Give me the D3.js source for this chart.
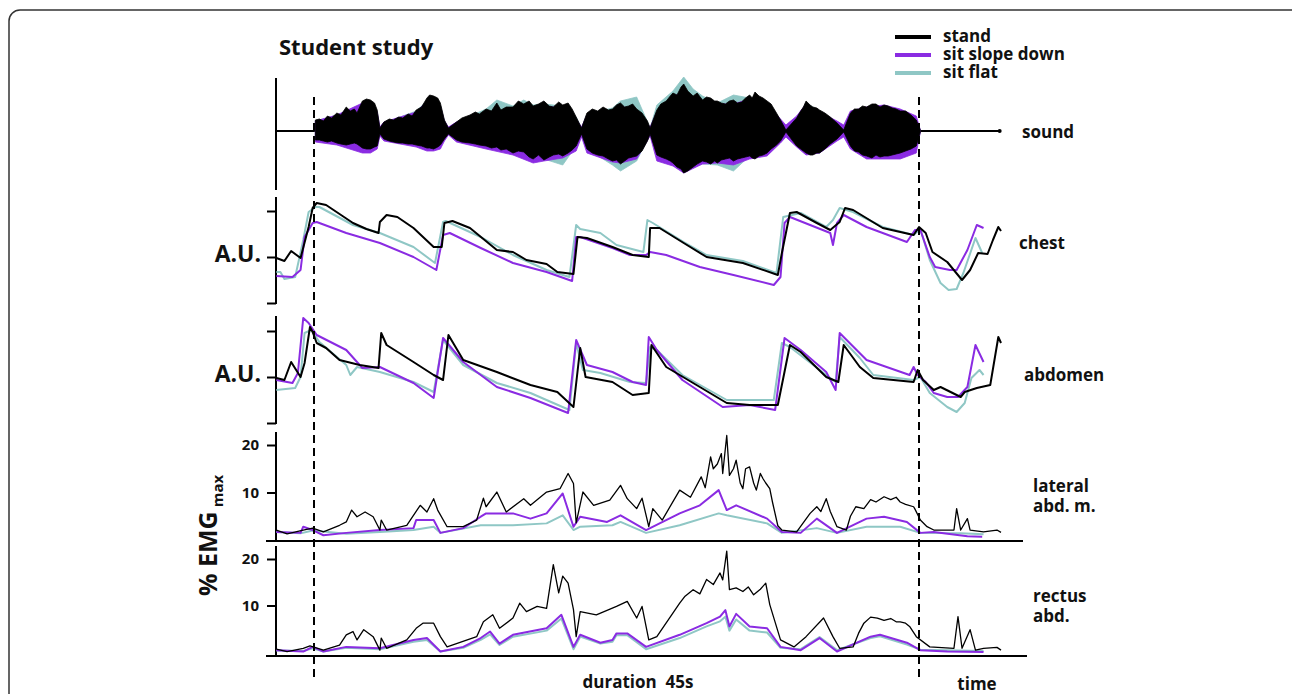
<!DOCTYPE html>
<html>
<head>
<meta charset="utf-8">
<script src="https://cdn.jsdelivr.net/npm/d3@7"></script>
<style>
  body { margin: 0; background: #fff; }
  text { font-family: "Open Sans", sans-serif; font-weight: 700; fill: #111; }
</style>
</head>
<body>
<svg id="chart" width="1292" height="694"></svg>
<script>
// conditions, drawn in this order (black on top)
const conditions = ['sit flat', 'sit slope down', 'stand'];
const legendOrder = ['stand', 'sit slope down', 'sit flat'];
const colors = { 'stand': '#000000', 'sit slope down': '#8a2be2', 'sit flat': '#8fc7c5' };

// speech interval in seconds
const speechStart = 0, speechEnd = 45;
const recordStart = -2.8, recordEnd = 51.1;

// sound envelope: [time s, upper, lower] (arbitrary units)
const soundStand = [[0.1,11,-9],[0.4,12,-9],[0.7,10,-10],[1.0,15,-11],[1.3,13,-10],[1.7,18,-12],[2.0,16,-13],[2.4,24,-14],[2.7,20,-13],[3.0,22,-12],[3.2,18,-13],[3.6,30,-17],[3.9,32,-18],[4.2,31,-18],[4.5,28,-16],[4.7,21,-15],[4.9,3,-3],
  [5.2,9,-8],[5.6,12,-10],[5.9,11,-11],[6.3,14,-12],[6.6,13,-12],[7.0,17,-13],[7.3,15,-13],[7.6,21,-14],[8.0,24,-15],[8.4,33,-17],[8.6,36,-17],[8.9,35,-18],[9.2,33,-16],[9.4,28,-14],[9.7,11,-8],[10.0,3,-3],
  [10.6,9,-9],[11.0,13,-11],[11.6,16,-12],[12.0,19,-13],[12.3,17,-14],[12.8,22,-15],[13.2,20,-17],[13.6,28,-16],[13.9,21,-19],[14.3,24,-18],[14.8,24,-22],[15.2,30,-20],[15.6,27,-21],[16.0,30,-26],[16.3,25,-28],[16.7,27,-24],[17.1,30,-29],[17.5,25,-26],[17.8,24,-24],[18.2,29,-23],[18.5,26,-25],[18.9,28,-22],[19.2,22,-19],[19.5,14,-15],[19.9,3,-3],
  [20.3,18,-18],[20.7,22,-22],[21.1,20,-24],[21.5,24,-25],[21.9,21,-28],[22.2,22,-30],[22.5,26,-29],[22.8,28,-33],[23.1,24,-30],[23.4,25,-27],[23.7,27,-26],[24.0,22,-25],[24.4,18,-20],[24.8,10,-10],[25.0,3,-3],
  [25.5,21,-24],[25.8,27,-26],[26.2,30,-28],[26.5,35,-30],[26.7,38,-32],[27.0,36,-36],[27.3,44,-38],[27.5,47,-42],[27.8,40,-40],[28.2,35,-36],[28.5,38,-33],[28.9,31,-30],[29.2,34,-31],[29.5,33,-33],[29.8,30,-30],[30.0,30,-32],[30.3,28,-29],[30.6,27,-28],[30.9,30,-27],[31.2,31,-30],[31.5,28,-28],[31.8,29,-27],[32.1,33,-26],[32.4,36,-25],[32.6,33,-27],[32.8,39,-28],[33.1,35,-25],[33.4,33,-24],[33.7,30,-22],[34.0,27,-18],[34.4,18,-14],[34.7,11,-10],[35.1,1,-1],
  [35.9,13,-15],[36.2,20,-18],[36.4,24,-20],[36.6,30,-22],[36.9,26,-24],[37.1,24,-24],[37.4,23,-22],[37.6,21,-22],[38.0,18,-18],[38.4,14,-13],[38.9,8,-8],[39.4,1,-1],
  [39.9,18,-15],[40.2,22,-20],[40.5,22,-21],[40.8,25,-24],[41.1,24,-25],[41.5,27,-27],[41.8,27,-24],[42.1,24,-26],[42.4,26,-25],[42.7,25,-25],[43.0,23,-24],[43.3,22,-23],[43.6,20,-22],[44.0,20,-20],[44.4,16,-18],[44.8,11,-15],[45.1,1,-1]];
const soundSlope = [[0.1,10,-11],[1.7,16,-14],[3.6,28,-22],[4.2,28,-22],[4.7,19,-18],[4.9,4,-5],[5.2,9,-10],[7.6,19,-16],[8.4,30,-20],[8.9,31,-20],[9.4,25,-18],[9.7,10,-10],[10.0,4,-4],[10.6,9,-11],[12.8,18,-18],[14.8,22,-24],[16.3,23,-32],[17.1,25,-30],[18.5,23,-27],[19.5,12,-20],[19.9,4,-6],[20.3,16,-22],[22.2,20,-31],[22.8,25,-32],[24.0,20,-28],[25.0,4,-5],[25.5,19,-30],[26.7,34,-35],[27.5,40,-42],[28.9,28,-33],[30.0,27,-32],[31.2,27,-34],[32.4,32,-28],[33.7,27,-25],[34.7,12,-12],[35.1,6,-6],[35.9,15,-16],[36.6,27,-24],[37.6,19,-22],[38.9,10,-10],[39.4,6,-6],[39.9,20,-18],[41.1,24,-28],[42.4,26,-28],[43.6,22,-28],[44.8,15,-22],[45.1,1,-1]];
const soundFlat = [[0.1,10,-9],[1.7,16,-12],[3.6,27,-16],[4.2,28,-17],[4.7,19,-14],[4.9,3,-3],[5.2,8,-8],[7.6,20,-14],[8.4,30,-16],[8.9,32,-17],[9.4,26,-14],[9.7,10,-8],[10.0,3,-3],[10.6,9,-9],[12.8,22,-15],[13.6,31,-17],[14.8,25,-22],[15.6,31,-20],[16.3,26,-25],[17.1,27,-28],[18.5,25,-34],[19.5,14,-15],[19.9,3,-3],[20.3,17,-18],[22.2,23,-34],[22.8,30,-40],[24.0,34,-30],[25.0,3,-3],[25.5,26,-22],[26.7,40,-32],[27.5,54,-40],[28.2,42,-36],[28.9,35,-33],[30.0,28,-34],[31.2,36,-40],[32.4,33,-25],[33.7,28,-22],[34.7,10,-10],[35.1,1,-1],[35.9,12,-14],[36.6,28,-22],[37.6,20,-22],[38.9,8,-8],[39.4,1,-1],[39.9,17,-15],[41.1,23,-25],[42.4,25,-25],[43.6,20,-23],[44.8,11,-15],[45.1,1,-1]];

// chest belt, [time s, A.U.]
const chestStand = [[-2.8,45],[-2.2,42],[-1.7,52],[-1.0,45],[-0.4,76],[-0.1,95],[0.2,100],[0.9,98],[2.9,80],[3.9,74],[4.8,70],[4.9,81],[5.4,88],[6.2,86],[7.4,75],[8.9,56],[9.5,56],[9.7,80],[10.3,82],[11.6,75],[13.6,53],[14.8,51],[15.8,43],[17.3,39],[18.1,31],[19.3,29],[19.6,66],[20.3,65],[22.2,56],[23.7,48],[24.9,46],[25.0,75],[25.7,75],[27.5,60],[29.2,46],[31.9,40],[34.5,28],[34.8,50],[35.4,90],[35.9,91],[37.4,80],[38.4,73],[39.1,81],[39.5,95],[40.1,93],[42.3,75],[44.6,68],[45.0,76],[45.5,70],[46.0,51],[47.1,41],[48.2,23],[48.8,33],[49.4,50],[50.1,49],[50.5,63],[50.9,76],[51.1,72]];
const chestSlope = [[-2.8,27],[-1.6,26],[-1.0,33],[-0.7,66],[-0.1,80],[0.2,81],[2.4,70],[4.9,60],[7.4,46],[9.1,33],[9.6,68],[10.1,70],[12.4,55],[14.8,40],[17.3,31],[19.2,22],[19.5,66],[19.8,66],[22.2,55],[23.5,48],[24.7,48],[25.0,51],[26.2,48],[28.7,36],[31.2,28],[34.2,18],[34.7,26],[35.0,80],[35.4,86],[38.4,70],[38.6,58],[38.9,80],[39.4,88],[41.1,76],[44.1,61],[44.7,73],[45.1,73],[45.8,46],[46.2,36],[47.3,33],[47.8,33],[48.6,53],[49.3,78],[49.8,75]];
const chestFlat = [[-2.8,31],[-2.5,31],[-2.2,24],[-1.4,26],[-0.8,63],[-0.4,91],[0.1,96],[0.4,96],[2.9,78],[4.9,70],[7.4,56],[9.0,40],[9.6,81],[9.8,82],[12.4,66],[14.8,48],[17.3,33],[19.0,26],[19.5,78],[19.8,74],[21.3,70],[22.5,58],[24.5,51],[24.8,83],[25.2,80],[27.5,61],[29.2,48],[31.9,42],[34.4,30],[34.9,86],[36.2,90],[38.1,76],[38.6,83],[39.1,95],[40.1,91],[42.3,76],[44.6,68],[45.1,74],[45.8,43],[46.6,20],[47.2,13],[47.8,14],[48.3,30],[49.2,65],[49.7,50]];

// abdomen belt, [time s, A.U.]
const abdStand = [[-2.8,45],[-2.2,43],[-1.7,61],[-1.0,46],[-0.7,60],[-0.3,96],[-0.1,91],[0.2,80],[0.9,75],[1.9,63],[3.4,58],[4.8,55],[5.0,90],[5.4,78],[7.4,61],[8.9,48],[9.6,43],[10.0,88],[11.1,63],[13.6,51],[16.1,38],[18.1,31],[19.3,16],[19.8,75],[20.2,46],[22.2,41],[23.7,28],[24.9,30],[25.1,78],[26.2,56],[28.7,36],[30.7,20],[32.4,18],[34.5,18],[35.4,78],[36.2,71],[38.1,46],[39.0,41],[39.4,78],[40.6,56],[41.6,45],[44.6,41],[44.9,53],[45.3,43],[46.1,33],[46.6,36],[48.1,26],[48.4,31],[49.3,35],[50.3,38],[50.9,86],[51.1,80]];
const abdSlope = [[-2.8,43],[-1.6,40],[-1.2,50],[-0.8,105],[-0.4,100],[0.2,88],[2.4,73],[3.6,55],[4.9,56],[7.4,40],[8.9,25],[9.6,85],[11.1,61],[13.6,36],[16.1,25],[18.9,10],[19.5,83],[20.3,58],[22.2,51],[23.7,41],[24.7,38],[24.9,86],[25.5,73],[27.4,43],[30.4,16],[32.4,18],[34.3,13],[35.0,85],[36.2,73],[38.1,51],[38.8,33],[39.1,90],[41.1,63],[44.3,48],[44.6,56],[44.9,48],[45.5,41],[46.1,30],[47.1,26],[47.9,26],[48.6,36],[49.2,78],[49.8,61]];
const abdFlat = [[-2.8,33],[-1.4,35],[-1.0,46],[-0.7,90],[-0.2,93],[0.4,81],[2.4,58],[2.7,48],[3.2,56],[4.9,51],[7.4,41],[8.9,31],[9.6,83],[11.1,58],[13.6,40],[16.1,30],[19.0,13],[19.5,80],[20.0,53],[21.3,50],[23.5,41],[24.7,40],[25.0,76],[25.5,73],[27.4,48],[30.7,23],[34.2,23],[34.8,80],[35.4,76],[38.1,48],[38.8,41],[39.1,86],[40.6,65],[41.6,48],[44.6,43],[45.1,46],[45.8,30],[47.1,16],[47.8,11],[48.4,20],[48.9,45],[49.5,53],[49.8,48]];

// lateral abdominal muscles EMG, [time s, % EMGmax]
const latStand = [[-2.8,2.1],[-2.0,1.3],[-0.8,2.1],[-0.1,2.5],[0.7,1.7],[1.9,3.1],[2.4,3.8],[2.8,6.3],[3.2,4.9],[3.8,5.9],[4.4,4.9],[4.9,2.1],[5.0,4.2],[5.4,2.1],[6.9,3.1],[7.9,7.3],[8.4,5.9],[8.9,8.7],[9.2,6.3],[9.9,2.8],[11.1,2.8],[12.1,4.2],[12.6,8.8],[12.8,7.0],[13.6,10.1],[14.3,5.9],[15.6,8.7],[16.1,7.3],[17.3,10.1],[18.3,10.8],[18.9,14.0],[19.3,11.9],[19.5,3.6],[20.0,10.1],[20.8,7.3],[22.0,8.4],[22.8,11.5],[23.3,8.7],[24.0,6.6],[24.4,8.8],[24.9,2.8],[25.2,6.6],[25.9,4.2],
  [27.2,10.5],[28.0,9.0],[28.8,13.3],[29.1,11.0],[29.5,17.5],[29.7,15.0],[30.0,16.0],[30.3,18.2],[30.4,14.0],[30.7,22.0],[30.9,13.6],[31.2,15.0],[31.4,16.8],[31.7,12.0],[31.9,10.8],[32.1,15.0],[32.4,15.4],[32.7,12.0],[32.9,10.5],[33.2,14.0],[33.4,12.9],[33.6,12.0],[33.9,10.8],[34.1,8.0],[34.5,3.0],[34.8,2.1],
  [35.9,1.7],[36.9,5.6],[37.4,7.0],[37.7,6.0],[38.1,8.7],[38.4,6.0],[38.9,2.8],[39.6,2.1],[39.9,5.0],[40.3,7.0],[40.9,6.6],[41.4,8.5],[41.8,8.0],[42.4,9.1],[42.9,8.5],[43.3,9.0],[43.6,8.0],[44.0,7.5],[44.6,7.0],[44.7,6.5],[45.1,4.2],[45.6,2.8],[46.1,2.1],[47.6,2.1],[47.8,6.6],[48.1,2.1],[48.6,4.5],[48.8,2.1],[49.8,1.7],[50.8,2.1],[51.1,1.6]];
const latSlope = [[-2.8,1.7],[-1.0,1.5],[-0.8,2.8],[-0.1,2.1],[0.7,1.0],[2.4,1.5],[4.9,2.1],[7.4,2.5],[7.6,4.2],[8.9,4.2],[9.4,1.5],[11.1,2.5],[12.4,4.9],[12.8,5.6],[14.8,5.6],[16.1,4.5],[17.3,5.6],[18.5,9.8],[19.3,2.8],[19.8,4.9],[21.8,3.8],[22.8,5.2],[24.7,2.1],[27.2,5.6],[28.7,7.3],[30.1,10.5],[30.7,6.3],[31.4,7.3],[33.7,4.5],[34.8,1.7],[36.2,1.5],[37.4,4.5],[38.9,1.5],[41.1,4.5],[42.4,4.9],[44.1,3.8],[45.1,1.5],[46.1,1.7],[48.6,0.8],[49.7,0.7]];
const latFlat = [[-2.8,1.7],[-1.0,1.4],[-0.1,2.0],[2.4,1.3],[4.9,1.7],[7.4,2.1],[8.9,2.8],[9.4,1.5],[12.4,3.1],[14.8,3.1],[17.3,3.5],[18.5,5.2],[19.3,2.1],[19.8,2.8],[22.2,3.1],[22.8,3.8],[24.7,1.5],[27.2,3.1],[30.1,5.6],[30.7,5.2],[33.7,3.5],[34.8,1.5],[37.4,2.5],[38.9,1.5],[41.1,2.8],[43.6,2.8],[45.1,1.5],[48.1,1.4],[49.8,1.2]];

// rectus abdominis EMG, [time s, % EMGmax]
const recStand = [[-2.8,0.6],[-2.0,0.1],[-0.8,0.8],[-0.3,1.3],[0.7,0.4],[1.9,1.5],[2.4,3.7],[2.9,4.4],[3.2,2.6],[3.7,4.8],[4.4,3.3],[4.9,0.4],[5.0,3.0],[5.4,0.8],[6.9,2.6],[7.6,5.1],[8.1,6.2],[8.9,6.2],[9.4,3.3],[9.9,1.1],[11.4,2.6],[12.1,3.3],[12.6,6.5],[13.3,8.0],[13.8,5.1],[14.8,7.3],[15.3,10.5],[15.8,8.7],[16.6,9.8],[17.3,9.4],[17.8,18.8],[18.2,12.7],[18.5,16.3],[18.9,14.8],[19.3,9.1],[19.5,3.3],[19.8,8.7],[21.0,8.0],[22.5,9.8],[23.3,10.9],[24.0,7.3],[24.4,9.8],[24.9,2.6],[25.5,3.3],
  [27.2,10.5],[27.6,12.0],[28.2,13.4],[28.7,12.5],[29.2,15.6],[29.7,14.5],[30.2,17.0],[30.4,15.5],[30.7,21.7],[30.9,13.4],[31.4,13.8],[31.9,13.0],[32.3,14.0],[32.7,12.3],[33.2,13.5],[33.6,14.8],[33.9,10.2],[34.7,2.6],
  [35.7,1.1],[36.6,3.3],[37.9,7.3],[38.6,3.3],[39.1,0.8],[40.1,1.1],[40.5,4.0],[40.9,6.2],[41.4,7.5],[41.9,7.3],[42.4,6.8],[42.9,7.2],[43.3,6.5],[43.6,6.5],[44.0,6.2],[44.3,5.5],[44.8,3.3],[45.8,1.1],[47.6,0.8],[47.9,7.6],[48.2,0.8],[48.8,4.8],[49.2,0.4],[49.8,0.8],[50.8,1.0],[51.1,0.4]];
const recSlope = [[-2.8,0.4],[-0.8,0.1],[-0.1,1.1],[0.7,0.1],[2.4,1.1],[4.9,0.8],[7.4,2.6],[8.4,3.0],[9.4,0.1],[11.1,1.1],[12.4,3.0],[13.1,4.4],[13.8,1.8],[14.8,3.7],[17.3,5.1],[18.4,8.0],[19.3,1.1],[19.8,3.7],[21.3,2.0],[22.2,2.6],[22.5,4.0],[23.3,4.0],[24.7,1.1],[27.2,3.7],[29.2,6.2],[30.2,7.6],[30.6,9.0],[30.9,5.5],[31.4,8.2],[32.4,5.5],[33.7,5.1],[34.7,1.1],[36.2,0.4],[37.6,3.0],[38.9,0.1],[41.4,3.3],[42.1,3.7],[44.1,2.0],[45.1,0.4],[47.1,0.1],[49.8,0.0]];
const recFlat = [[-2.8,0.3],[-0.8,0.2],[-0.1,0.8],[0.7,0.1],[2.4,0.9],[4.9,0.6],[7.4,2.2],[8.4,2.6],[9.4,0.1],[11.1,0.9],[12.4,2.6],[13.1,3.8],[13.8,1.5],[14.8,3.3],[17.3,4.6],[18.4,7.2],[19.3,0.6],[19.8,3.3],[21.3,1.8],[22.2,2.2],[22.5,3.6],[23.3,3.6],[24.7,0.6],[27.2,3.0],[29.2,5.5],[30.2,6.6],[30.6,7.6],[30.9,4.6],[31.4,7.0],[32.4,4.6],[33.7,4.2],[34.7,0.9],[36.2,0.6],[37.6,3.2],[38.9,0.4],[41.4,3.0],[42.1,3.4],[44.1,1.6],[45.1,0.5],[47.1,0.4],[49.8,0.2]];

const auTicks = [0, 46, 92];
const emgTicks = [10, 20];

const svg = d3.select('#chart');
const axisX = 276;

// frame
svg.append('rect').attr('x', 9).attr('y', 10).attr('width', 1300).attr('height', 720)
  .attr('rx', 11).attr('fill', 'none').attr('stroke', '#333').attr('stroke-width', 1.5);

const x = d3.scaleLinear().domain([speechStart, speechEnd]).range([314, 919]);

// y scales for each panel
const ySound = d3.scaleLinear().domain([-50, 50]).range([181, 81]);
const yChest = d3.scaleLinear().domain([0, 92]).range([303, 211]);
const yAbd = d3.scaleLinear().domain([0, 92]).range([423, 331]);
const yLat = d3.scaleLinear().domain([0, 20]).range([540, 445]);
const yRec = d3.scaleLinear().domain([0, 20]).range([652, 559]);

function vAxis(y, ticks, top, bottom, labelled) {
  const g = svg.append('g').attr('transform', `translate(${axisX},0)`);
  if (ticks) {
    g.call(d3.axisLeft(y).tickValues(ticks).tickSize(9).tickPadding(8)
      .tickFormat(labelled ? d3.format('d') : ''));
    g.select('.domain').remove();
    g.selectAll('.tick line').attr('stroke', '#000').attr('stroke-width', 2);
    g.selectAll('.tick text').attr('font-size', 15).attr('font-family', '"Open Sans", sans-serif')
      .attr('font-weight', 700).attr('fill', '#111');
  }
  g.append('line').attr('y1', top).attr('y2', bottom).attr('stroke', '#000').attr('stroke-width', 2);
}

vAxis(ySound, null, 78, 190, false);
vAxis(yChest, auTicks, 197, 304, false);
vAxis(yAbd, auTicks, 316, 424, false);
vAxis(yLat, emgTicks, 432, 541, true);
vAxis(yRec, emgTicks, 546, 657, true);

// horizontal baselines for EMG panels
[[541, 1023], [656, 1027]].forEach(([yy, x2]) => {
  svg.append('line').attr('x1', 266).attr('x2', x2).attr('y1', yy).attr('y2', yy)
    .attr('stroke', '#000').attr('stroke-width', 2);
});

// sound
const soundData = { 'stand': soundStand, 'sit slope down': soundSlope, 'sit flat': soundFlat };
const area = d3.area().x(d => x(d[0])).y0(d => ySound(d[2])).y1(d => ySound(d[1]));
svg.append('line').attr('x1', x(recordStart)).attr('x2', x(recordEnd - 0.1))
  .attr('y1', ySound(0)).attr('y2', ySound(0)).attr('stroke', '#000').attr('stroke-width', 2);
svg.append('circle').attr('cx', x(recordEnd - 0.1)).attr('cy', ySound(0)).attr('r', 2);
conditions.forEach(c => {
  svg.append('path').datum(soundData[c]).attr('d', area)
    .attr('fill', colors[c]).attr('stroke', colors[c]).attr('stroke-width', 0.8)
    .attr('stroke-linejoin', 'miter');
});

// traces
const line = y => d3.line().x(d => x(d[0])).y(d => y(d[1]));
const panels = [
  { y: yChest, data: { 'stand': chestStand, 'sit slope down': chestSlope, 'sit flat': chestFlat }, w: 2 },
  { y: yAbd, data: { 'stand': abdStand, 'sit slope down': abdSlope, 'sit flat': abdFlat }, w: 2 },
  { y: yLat, data: { 'stand': latStand, 'sit slope down': latSlope, 'sit flat': latFlat }, w: 1.3 },
  { y: yRec, data: { 'stand': recStand, 'sit slope down': recSlope, 'sit flat': recFlat }, w: 1.3 }
];
panels.forEach(p => {
  conditions.forEach(c => {
    svg.append('path').datum(p.data[c]).attr('d', line(p.y)).attr('fill', 'none')
      .attr('stroke', colors[c]).attr('stroke-width', c === 'stand' ? p.w : 2)
      .attr('stroke-linejoin', 'round');
  });
});

// speech start / end markers
[speechStart, speechEnd].forEach(t => {
  svg.append('line').attr('x1', x(t)).attr('x2', x(t)).attr('y1', 97).attr('y2', 682)
    .attr('stroke', '#000').attr('stroke-width', 2).attr('stroke-dasharray', '8,5');
});

// title and legend
svg.append('text').attr('x', 279).attr('y', 55).attr('font-size', 22).text('Student study');
legendOrder.forEach((c, i) => {
  const yy = 37 + i * 18;
  svg.append('line').attr('x1', 895).attr('x2', 931).attr('y1', yy).attr('y2', yy)
    .attr('stroke', colors[c]).attr('stroke-width', 4);
  svg.append('text').attr('x', 943).attr('y', yy + 5).attr('font-size', 17)
    .attr('font-weight', 600).text(c);
});

// right-hand panel labels
const rightLabels = [
  { lines: ['sound'], x: 1022, y: 138 },
  { lines: ['chest'], x: 1019, y: 249 },
  { lines: ['abdomen'], x: 1024, y: 381 },
  { lines: ['lateral', 'abd. m.'], x: 1033, y: 492 },
  { lines: ['rectus', 'abd.'], x: 1033, y: 602 }
];
rightLabels.forEach(l => {
  const t = svg.append('text').attr('x', l.x).attr('y', l.y).attr('font-size', 17).attr('font-weight', 600);
  l.lines.forEach((s, i) => t.append('tspan').attr('x', l.x).attr('dy', i ? 20 : 0).text(s));
});

// left axis titles
[262, 382].forEach(yy => {
  svg.append('text').attr('x', 261).attr('y', yy).attr('text-anchor', 'end')
    .attr('font-size', 23).text('A.U.');
});
const emgTitle = svg.append('text').attr('transform', 'translate(217,596) rotate(-90)')
  .attr('font-size', 25);
emgTitle.append('tspan').text('% EMG');
emgTitle.append('tspan').attr('font-size', 15).attr('dx', 4).attr('dy', 6).text('max');

// bottom labels
svg.append('text').attr('x', 638).attr('y', 688).attr('text-anchor', 'middle')
  .attr('font-size', 17).attr('font-weight', 600).attr('xml:space', 'preserve').text('duration  45s');
svg.append('text').attr('x', 977).attr('y', 690).attr('text-anchor', 'middle')
  .attr('font-size', 17).attr('font-weight', 600).text('time');
</script>
</body>
</html>
